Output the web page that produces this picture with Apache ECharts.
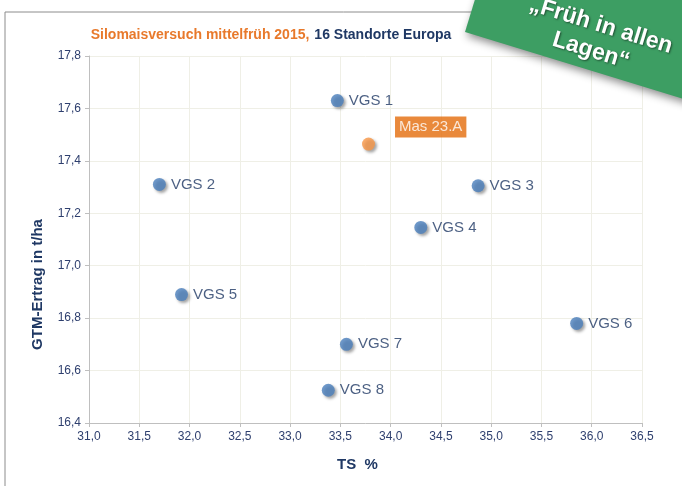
<!DOCTYPE html>
<html>
<head>
<meta charset="utf-8">
<script src="https://cdn.jsdelivr.net/npm/echarts@6/dist/echarts.min.js"></script>
<style>
  html, body { margin: 0; padding: 0; background: #fff; }
  #main { width: 682px; height: 486px; }
</style>
</head>
<body>
<div id="main"></div>
<script>
// Sorten (VGS) – TS % und GTM-Ertrag t/ha
const names = ['VGS 1', 'VGS 2', 'VGS 3', 'VGS 4', 'VGS 5', 'VGS 6', 'VGS 7', 'VGS 8'];
const tsValues = [33.47, 31.70, 34.87, 34.30, 31.92, 35.85, 33.56, 33.38];
const yieldValues = [17.63, 17.31, 17.305, 17.146, 16.89, 16.78, 16.70, 16.525];
// Referenzsorte
const refName = 'Mas 23.A';
const refTs = 33.78;
const refYield = 17.464;

const navy = '#1f3864';
const labelFont = 'Liberation Sans Narrow, Arial Narrow, Liberation Sans, sans-serif';
const fmt = (v) => v.toFixed(1).replace('.', ',');

const bannerText = {
  fill: '#fff',
  font: 'bold 23px Liberation Sans, Arial, sans-serif',
  align: 'center',
  verticalAlign: 'middle',
  textShadowColor: 'rgba(0,0,0,0.5)',
  textShadowBlur: 2,
  textShadowOffsetX: 1,
  textShadowOffsetY: 1
};

const myChart = echarts.init(document.getElementById('main'));
const option = {
  animation: false,
  title: {
    text: '{a|Silomaisversuch mittelfrüh 2015,} {b|16 Standorte Europa}',
    left: 266,
    top: 21,
    textAlign: 'center',
    textStyle: {
      rich: {
        a: { color: '#e8792b', fontSize: 14, fontWeight: 'bold', fontFamily: labelFont },
        b: { color: navy, fontSize: 14, fontWeight: 'bold', fontFamily: labelFont }
      }
    }
  },
  grid: { left: 89, right: 40, top: 56, bottom: 63 },
  xAxis: {
    type: 'value',
    min: 31,
    max: 36.5,
    interval: 0.5,
    name: 'TS  %',
    nameLocation: 'middle',
    nameGap: 34,
    nameTextStyle: { color: navy, fontSize: 15, fontWeight: 'bold', fontFamily: labelFont, padding: [0, 16, 0, 0] },
    axisLine: { show: true, lineStyle: { color: '#bfbfbf' } },
    axisTick: { show: true, length: 4, lineStyle: { color: '#bfbfbf' } },
    axisLabel: { color: '#2e3f6e', fontSize: 12, fontFamily: labelFont, margin: 8, formatter: fmt },
    splitLine: { show: true, lineStyle: { color: '#efefe6' } }
  },
  yAxis: {
    type: 'value',
    min: 16.4,
    max: 17.8,
    interval: 0.2,
    name: 'GTM-Ertrag in t/ha',
    nameLocation: 'middle',
    nameGap: 44,
    nameTextStyle: { color: navy, fontSize: 15, fontWeight: 'bold', fontFamily: labelFont, padding: [0, 90, 0, 0] },
    axisLine: { show: true, lineStyle: { color: '#bfbfbf' } },
    axisTick: { show: true, length: 4, lineStyle: { color: '#bfbfbf' } },
    axisLabel: { color: '#2e3f6e', fontSize: 12, fontFamily: labelFont, margin: 8, formatter: fmt },
    splitLine: { show: true, lineStyle: { color: '#efefe6' } }
  },
  series: [
    {
      type: 'scatter',
      symbolSize: 13,
      data: names.map((n, i) => ({ name: n, value: [tsValues[i], yieldValues[i]] })),
      itemStyle: {
        color: '#4a7ebb',
        shadowBlur: 3,
        shadowOffsetX: 2,
        shadowOffsetY: 2,
        shadowColor: 'rgba(0,0,0,0.45)'
      },
      label: {
        show: true,
        position: 'right',
        distance: 5,
        formatter: '{b}',
        color: navy,
        fontSize: 15,
        fontFamily: labelFont
      }
    },
    {
      type: 'scatter',
      symbolSize: 13,
      data: [{ name: refName, value: [refTs, refYield] }],
      itemStyle: {
        color: '#f79646',
        shadowBlur: 3,
        shadowOffsetX: 2,
        shadowOffsetY: 2,
        shadowColor: 'rgba(0,0,0,0.45)'
      },
      label: {
        show: true,
        position: [33, -21],
        align: 'left',
        verticalAlign: 'top',
        formatter: '{b}',
        color: '#fff',
        backgroundColor: '#e46c0a',
        padding: [3, 4, 3, 4],
        fontSize: 15,
        fontFamily: labelFont
      }
    }
  ],
  graphic: [
    // Rahmen
    {
      type: 'polyline',
      shape: { points: [[5, 486], [5, 12], [682, 12]] },
      style: { stroke: '#8c8c8c', lineWidth: 1, fill: null },
      z: 1
    },
    // grünes Banner
    {
      type: 'group',
      x: 465,
      y: 32,
      rotation: -0.297,
      zlevel: 1,
      z: 100,
      children: [
        {
          type: 'rect',
          z: 100,
          zlevel: 1,
          shape: { x: 0, y: -100, width: 300, height: 100 },
          style: {
            fill: '#3d9e63',
            shadowBlur: 8,
            shadowOffsetX: 2,
            shadowOffsetY: 4,
            shadowColor: 'rgba(0,0,0,0.45)'
          }
        },
        {
          type: 'text',
          z: 101,
          zlevel: 1,
          x: 128,
          y: -46,
          style: Object.assign({ text: '„Früh in allen' }, bannerText)
        },
        {
          type: 'text',
          z: 101,
          zlevel: 1,
          x: 126,
          y: -19,
          style: Object.assign({ text: 'Lagen“' }, bannerText)
        }
      ]
    }
  ]
};
myChart.setOption(option);
</script>
</body>
</html>
